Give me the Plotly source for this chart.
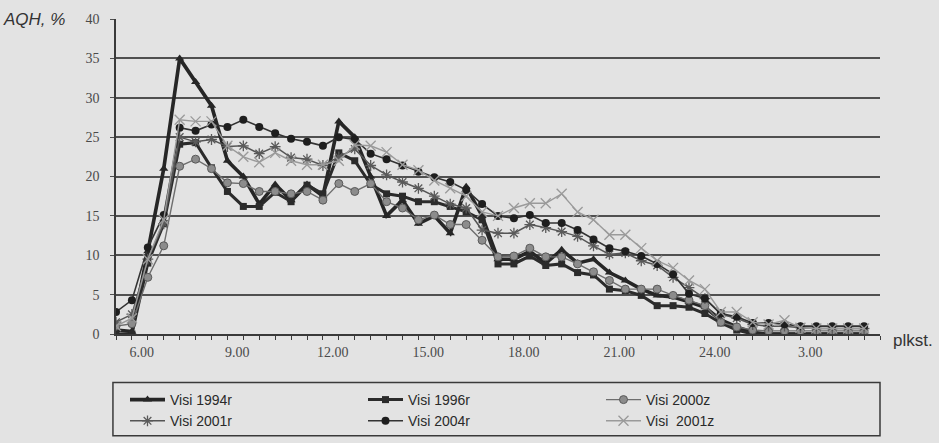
import plotly.graph_objects as go

# Half-hour slots from 5.00 to 4.30 next morning (hours, 24+ = after midnight)
slots = [5 + 0.5 * k for k in range(48)]

visi_1994r = [0.5, 0.3, 10.5, 21, 35, 32, 29, 22, 20, 16.5, 19, 17, 19, 17.5, 27, 25,
              20, 15, 17, 14, 15, 12.8, 18.7, 15, 9.5, 9.5, 10.5, 9, 10.7, 9, 9.5, 7.8,
              6.8, 5.7, 4.9, 4.7, 4.1, 3.4, 1.8, 0.9, 0.2, 0, 0, 0, 0, 0, 0, 0]
visi_1996r = [0, 0, 9, 14, 24.1, 24.3, 21.1, 18.1, 16.2, 16.2, 18, 16.8, 18.9, 17.8, 23, 22,
              19, 17.8, 17.5, 16.8, 16.8, 16.2, 15.5, 14.5, 8.9, 8.9, 9.9, 8.7, 8.9, 7.8, 7.5, 5.7,
              5.5, 4.9, 3.6, 3.6, 3.4, 2.6, 1.4, 0.5, 0, 0, 0, 0, 0, 0, 0, 0]
visi_2000z = [1.0, 1.3, 7.2, 11.2, 21.3, 22.2, 21, 19.2, 19.1, 18.1, 18.1, 17.8, 18.1, 17, 19.1, 18.1,
              19.1, 16.8, 16, 14.5, 15.1, 13.9, 13.9, 11.9, 9.8, 9.9, 10.9, 9.8, 9.8, 8.9, 7.9, 6.8,
              5.7, 5.7, 5.7, 4.9, 4.3, 3.6, 1.5, 0.9, 0.5, 0.4, 0.4, 0.4, 0.4, 0.4, 0.4, 0.4]
visi_2001r = [1.5, 2.5, 9.5, 14, 25, 24.4, 24.7, 23.8, 23.9, 22.9, 23.8, 22.4, 22.2, 21.4, 22.5, 23.5,
              21.4, 20.2, 19.3, 18.5, 17.5, 16.5, 16, 13.2, 12.8, 12.8, 13.9, 13.5, 13, 12.4, 11.2, 10.1,
              10.3, 9.3, 8.7, 7.2, 5.9, 4.5, 2.5, 2, 1.2, 1, 1, 0.8, 0.7, 0.7, 0.7, 0.7]
visi_2004r = [2.8, 4.3, 11, 15.1, 26.2, 25.8, 26.6, 26.3, 27.2, 26.3, 25.5, 24.8, 24.4, 23.9, 25, 24.7,
              22.9, 22.2, 21.4, 20.6, 19.9, 19.3, 18.3, 16.5, 15, 14.7, 15.1, 14.1, 14.1, 13.2, 12, 10.9,
              10.5, 9.9, 8.9, 7.6, 5.1, 4.5, 2.6, 2.2, 1.4, 1.4, 1.25, 1, 1, 1, 1, 1]
visi_2001z = [1, 2, 9.5, 14.5, 27.2, 27, 27, 23.9, 22.5, 21.8, 23, 22, 21.5, 21.5, 22, 24,
              23.9, 23.1, 21.5, 20.8, 19.5, 18.5, 17.5, 15.5, 15, 16, 16.6, 16.6, 17.8, 15.5, 14.5, 12.6,
              12.6, 10.9, 9.3, 8.4, 6.8, 5.7, 2.8, 2.8, 1.5, 1.2, 1.75, 0.8, 0.7, 0.7, 0.7, 0.7]

tick_hours = [6, 9, 12, 15, 18, 21, 24, 27]
tick_text = ["6.00", "9.00", "12.00", "15.00", "18.00", "21.00", "24.00", "3.00"]
y_ticks = [0, 5, 10, 15, 20, 25, 30, 35, 40]

series = [
    ("Visi 1994r", visi_1994r, dict(color="#262626", width=3.6),
     dict(symbol="triangle-up", size=8, color="#262626")),
    ("Visi 1996r", visi_1996r, dict(color="#2b2b2b", width=3.0),
     dict(symbol="square", size=7, color="#2b2b2b")),
    ("Visi 2000z", visi_2000z, dict(color="#6e6e6e", width=1.4),
     dict(symbol="circle", size=8, color="#8c8c8c", line=dict(color="#5a5a5a", width=1))),
    ("Visi 2001r", visi_2001r, dict(color="#555555", width=1.5),
     dict(symbol="asterisk-open", size=9, color="#5a5a5a", line=dict(color="#5a5a5a", width=1.3))),
    ("Visi 2004r", visi_2004r, dict(color="#333333", width=1.6),
     dict(symbol="circle", size=8, color="#1e1e1e")),
    ("Visi  2001z", visi_2001z, dict(color="#9a9a9a", width=1.4),
     dict(symbol="x-thin-open", size=10, color="#9a9a9a", line=dict(color="#9a9a9a", width=1.3))),
]

fig = go.Figure()
for name, vals, line, marker in series:
    fig.add_trace(go.Scatter(x=slots, y=vals, name=name, mode="lines+markers",
                             line=line, marker=marker))

fig.update_layout(
    width=939, height=443,
    margin=dict(l=116, r=59, t=15, b=109),
    paper_bgcolor="#e3e3e3", plot_bgcolor="#e3e3e3",
    font=dict(family="Liberation Serif", color="#4a4a4a", size=13),
    showlegend=True,
    legend=dict(
        orientation="h", xref="container", yref="container",
        x=125 / 939, xanchor="left", y=1 - 384 / 443, yanchor="top",
        entrywidth=188, entrywidthmode="pixels",
        bgcolor="rgba(0,0,0,0)", borderwidth=0,
        font=dict(family="Liberation Sans Narrow, Liberation Sans, sans-serif", size=14,
                  color="#2a2a2a"),
        tracegroupgap=0, itemwidth=35,
    ),
)

# frame around the key
fig.add_shape(type="rect", xref="paper", yref="paper",
              x0=-0.004, x1=1.0, y0=-(383 - 334) / 319, y1=-(437 - 334) / 319,
              line=dict(color="#3a3a3a", width=1.5), fillcolor="rgba(0,0,0,0)")

fig.update_xaxes(
    range=[5, 29], tickvals=tick_hours, ticktext=tick_text, ticklabelshift=-6,
    showgrid=False, zeroline=False,
    showline=True, linecolor="#3a3a3a", linewidth=1.6,
    ticks="outside", ticklen=4, tickcolor="#3a3a3a", tickwidth=1.3,
    minor=dict(dtick=0.5, tick0=5, ticks="outside", ticklen=4, tickcolor="#3a3a3a",
               tickwidth=1.3, showgrid=False),
    tickfont=dict(family="Liberation Serif", size=14, color="#4a4a4a"),
)
fig.update_yaxes(
    range=[0, 40], tickvals=y_ticks, showgrid=True, gridcolor="#505050", gridwidth=1.6,
    zeroline=False, showline=True, linecolor="#3a3a3a", linewidth=1.6,
    ticks="outside", ticklen=4, tickcolor="#505050", tickwidth=1.3,
    ticklabelstandoff=8,
    tickfont=dict(family="Liberation Serif", size=14, color="#4a4a4a"),
)

fig.add_annotation(text="<i>AQH, %</i>", xref="paper", yref="paper", x=-0.15, y=1.0,
                   xanchor="left", yanchor="middle", showarrow=False,
                   font=dict(family="Liberation Sans, sans-serif", size=17, color="#333333"))
fig.add_annotation(text="plkst.", xref="paper", yref="paper", x=1.015, y=-0.02,
                   xanchor="left", yanchor="middle", showarrow=False,
                   font=dict(family="Liberation Sans, sans-serif", size=17, color="#333333"))

fig.write_html("out.html")
